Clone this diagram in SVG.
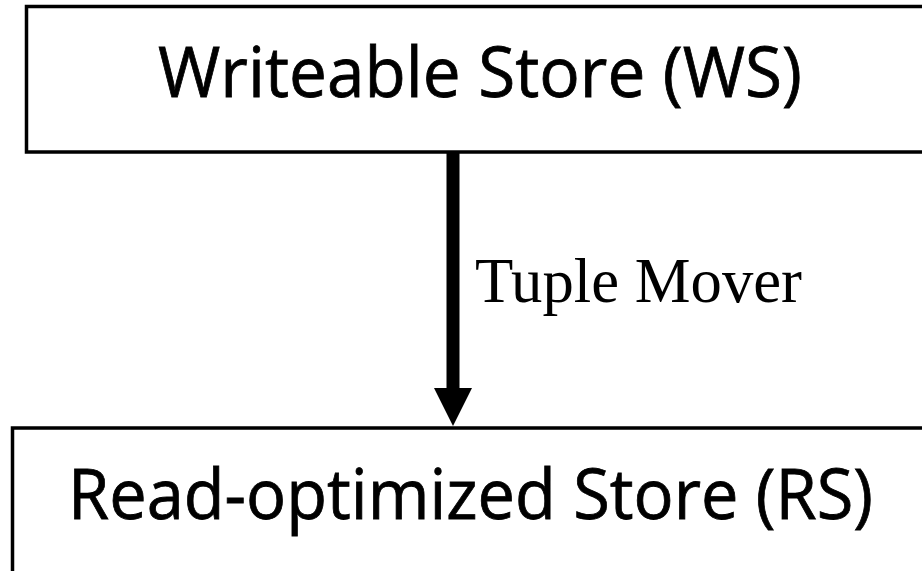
<svg xmlns="http://www.w3.org/2000/svg" width="922" height="571" viewBox="0 0 922 571">
<style>
.box{fill:#fff;stroke:#000;stroke-width:3.5}
.lbl{font-family:"Open Sans","Noto Sans","Liberation Sans",sans-serif;font-size:70px;fill:#000;stroke:#000;stroke-width:0.8}
.edge{font-family:"Liberation Serif","Times New Roman",serif;font-size:63px;fill:#000}
</style>
<defs>
<marker id="ah" markerUnits="userSpaceOnUse" markerWidth="38" markerHeight="38" refX="0" refY="19" orient="auto" viewBox="0 0 38 38">
<path d="M0,0 L38,19 L0,38 Z" fill="#000"/>
</marker>
</defs>
<rect width="922" height="571" fill="#fff"/>
<g id="ws">
<rect class="box" x="26.5" y="6.5" width="910" height="145.5"/>
<text class="lbl" x="158" y="97" textLength="644" lengthAdjust="spacingAndGlyphs">Writeable Store (WS)</text>
</g>
<g id="rs">
<rect class="box" x="12.5" y="428" width="930" height="160"/>
<text class="lbl" x="68" y="519" textLength="805" lengthAdjust="spacingAndGlyphs">Read-optimized Store (RS)</text>
</g>
<g id="connectors">
<line x1="453" y1="152" x2="453" y2="388" stroke="#000" stroke-width="13" marker-end="url(#ah)"/>
<text class="edge" x="475" y="302" textLength="327" lengthAdjust="spacingAndGlyphs">Tuple Mover</text>
</g>
</svg>
